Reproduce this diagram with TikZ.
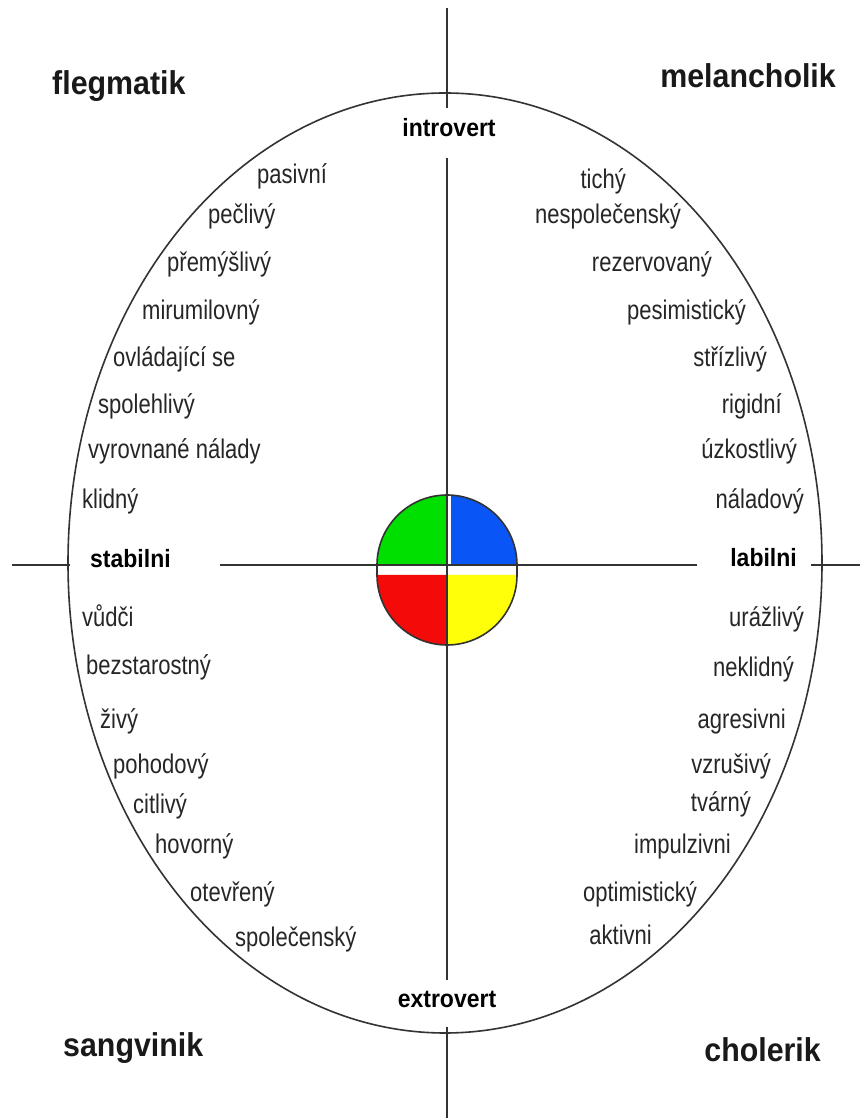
\documentclass[tikz,border=0pt]{standalone}
\usepackage{fontspec}
\setmainfont{Liberation Sans}
\newfontfamily\traitfont[FakeStretch=0.815]{Liberation Sans}
\newfontfamily\headfont[FakeStretch=0.92]{Liberation Sans}
\usepackage{xcolor}
\definecolor{TempGreen}{HTML}{00E000}
\definecolor{TempBlue}{HTML}{0A55F5}
\definecolor{TempRed}{HTML}{F50A0A}
\definecolor{TempYellow}{HTML}{FFFF0A}
\definecolor{AxisGray}{HTML}{333333}
\definecolor{TraitGray}{HTML}{262626}
\usetikzlibrary{calc}
\tikzset{
    % Word labels along the ellipse
    trait/.style={
        inner sep=0pt,
        text=TraitGray,
        font=\traitfont\fontsize{27}{32}\selectfont
    },
    trait left/.style={
        trait,
        anchor=base west
    },
    trait right/.style={
        trait,
        anchor=base east
    },
    pole/.style={
        inner sep=0pt,
        text=black,
        font=\headfont\bfseries\fontsize{25}{30}\selectfont
    },
    temperament/.style={
        inner sep=0pt,
        text=black!90,
        font=\headfont\bfseries\fontsize{33}{38}\selectfont
    },
    axis line/.style={
        line width=1.8pt,
        AxisGray
    },
    outline/.style={
        line width=1.6pt,
        AxisGray
    }
}

\begin{document}
\begin{tikzpicture}[x=1pt, y=1pt]
        \fill[white] (0,0) rectangle (868,1120);
        \useasboundingbox (0,0) rectangle (868,1120);

        % Outer ellipse
        \draw[outline] (445,557) ellipse [x radius=377, y radius=470];

        % Centre disc
        \coordinate (core) at (447,555);
        \coordinate (core low) at (447,545);
        \fill[TempGreen] (core) -- ++(-70,0) arc[start angle=180, end angle=90, radius=70] -- cycle;
        \fill[TempBlue] (core) -- ++(0,70) arc[start angle=90, end angle=0, radius=70] -- cycle;
        \fill[TempRed] (core low) -- ++(-70,0) arc[start angle=180, end angle=270, radius=70] -- cycle;
        \fill[TempYellow] (core low) -- ++(0,-70) arc[start angle=270, end angle=360, radius=70] -- cycle;

        % Axes
        \coordinate (v top) at (447,1112);
        \coordinate (v a) at (447,1012);
        \coordinate (v b) at (447,962);
        \coordinate (v c) at (447,140);
        \coordinate (v d) at (447,93);
        \coordinate (v bottom) at (447,2);
        \coordinate (h left) at (12,555);
        \coordinate (h a) at (70,555);
        \coordinate (h b) at (220,555);
        \coordinate (h c) at (697,555);
        \coordinate (h d) at (811,555);
        \coordinate (h right) at (860,555);
        \draw[axis line] (v top) -- (v a);
        \draw[axis line] (v b) -- (v c);
        \draw[axis line] (v d) -- (v bottom);
        \draw[axis line] (h left) -- (h a);
        \draw[axis line] (h b) -- (h c);
        \draw[axis line] (h d) -- (h right);
        \draw[white, line width=3pt] ($(core)+(2.5,1)$) -- ++(0,68);

        % Disc outline
        \draw[outline] ($(core)+(-70,0)$) arc[start angle=180, end angle=0, radius=70]
            -- ($(core low)+(70,0)$) arc[start angle=0, end angle=-180, radius=70] -- cycle;

        % Poles
        \node[pole, anchor=base] (introvert) at (449,983) {introvert};
        \node[pole, anchor=base] (extrovert) at (447,112) {extrovert};
        \node[pole, anchor=base west] (stabilni) at (90,552) {stabilni};
        \node[pole, anchor=base east] (labilni) at (797,553) {labilni};

        % Temperaments
        \node[temperament, anchor=base west] (flegmatik) at (52,1025) {flegmatik};
        \node[temperament, anchor=base east] (melancholik) at (836,1032) {melancholik};
        \node[temperament, anchor=base west] (sangvinik) at (63,63) {sangvinik};
        \node[temperament, anchor=base east] (cholerik) at (821,58) {cholerik};

        % Flegmatik side
        \node[trait left] (pasivni) at (257,936) {pasivní};
        \node[trait left] (peclivy) at (208,896) {pečlivý};
        \node[trait left] (premyslivy) at (167,848) {přemýšlivý};
        \node[trait left] (mirumilovny) at (142,800) {mirumilovný};
        \node[trait left] (ovladajici) at (113,753) {ovládající se};
        \node[trait left] (spolehlivy) at (98,706) {spolehlivý};
        \node[trait left] (vyrovnane) at (88,661) {vyrovnané nálady};
        \node[trait left] (klidny) at (82,611) {klidný};

        % Sangvinik side
        \node[trait left] (vudci) at (82,493) {vůdči};
        \node[trait left] (bezstarostny) at (86,445) {bezstarostný};
        \node[trait left] (zivy) at (100,391) {živý};
        \node[trait left] (pohodovy) at (113,346) {pohodový};
        \node[trait left] (citlivy) at (133,306) {citlivý};
        \node[trait left] (hovorny) at (155,266) {hovorný};
        \node[trait left] (otevreny) at (190,218) {otevřený};
        \node[trait left] (spolecensky) at (235,173) {společenský};

        % Melancholik side
        \node[trait right] (tichy) at (626,931) {tichý};
        \node[trait right] (nespolecensky) at (681,896) {nespolečenský};
        \node[trait right] (rezervovany) at (712,848) {rezervovaný};
        \node[trait right] (pesimisticky) at (746,800) {pesimistický};
        \node[trait right] (strizlivy) at (767,753) {střízlivý};
        \node[trait right] (rigidni) at (782,706) {rigidní};
        \node[trait right] (uzkostlivy) at (797,661) {úzkostlivý};
        \node[trait right] (naladovy) at (804,611) {náladový};

        % Cholerik side
        \node[trait right] (urazlivy) at (804,493) {urážlivý};
        \node[trait right] (neklidny) at (794,443) {neklidný};
        \node[trait right] (agresivni) at (786,391) {agresivni};
        \node[trait right] (vzrusivy) at (771,346) {vzrušivý};
        \node[trait right] (tvarny) at (751,308) {tvárný};
        \node[trait right] (impulzivni) at (731,266) {impulzivni};
        \node[trait right] (optimisticky) at (697,218) {optimistický};
        \node[trait right] (aktivni) at (652,175) {aktivni};
    \end{tikzpicture}
\end{document}
